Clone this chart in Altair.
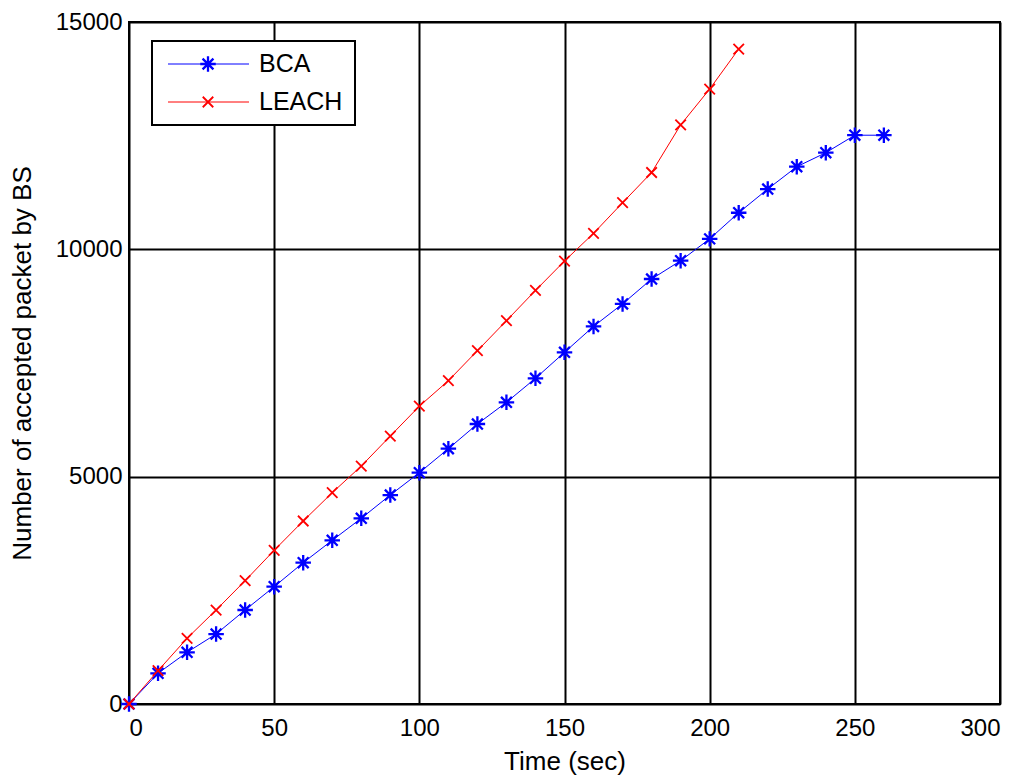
import altair as alt
import pandas as pd

time_bca = [0, 10, 20, 30, 40, 50, 60, 70, 80, 90, 100, 110, 120, 130, 140, 150,
            160, 170, 180, 190, 200, 210, 220, 230, 240, 250, 260]
bca = [0, 675, 1137, 1539, 2067, 2580, 3108, 3600, 4084, 4596, 5087, 5615, 6158,
       6635, 7163, 7735, 8305, 8800, 9347, 9750, 10230, 10805, 11326, 11817, 12125,
       12510, 12510]

time_leach = [0, 10, 20, 30, 40, 50, 60, 70, 80, 90, 100, 110, 120, 130, 140, 150,
              160, 170, 180, 190, 200, 210]
leach = [0, 733, 1445, 2067, 2712, 3380, 4025, 4647, 5234, 5894, 6550, 7111, 7770,
         8430, 9095, 9743, 10352, 11025, 11690, 12737, 13525, 14405]

series_names = ["BCA", "LEACH"]
series_colors = ["#0000ff", "#ff0000"]

ASTERISK = "M0,-1L0,1M-1,0L1,0M-0.7,-0.7L0.7,0.7M-0.7,0.7L0.7,-0.7"
XMARK = "M-1,-1L1,1M-1,1L1,-1"

df_bca = pd.DataFrame({"t": time_bca, "v": bca, "s": "BCA"})
df_leach = pd.DataFrame({"t": time_leach, "v": leach, "s": "LEACH"})

FONT = "Liberation Sans"

x_enc = alt.X("t:Q", scale=alt.Scale(domain=[0, 300], nice=False),
              axis=alt.Axis(values=[0, 50, 100, 150, 200, 250, 300], format="d",
                            title="Time (sec)"))
y_enc = alt.Y("v:Q", scale=alt.Scale(domain=[0, 15000], nice=False),
              axis=alt.Axis(values=[0, 5000, 10000, 15000], format="d",
                            title="Number of accepted packet by BS"))

AST_SIZE, AST_SW = 240, 2.3
X_SIZE, X_SW = 110, 1.8

def series(df, color, shape, size, sw):
    line = alt.Chart(df).mark_line(color=color, strokeWidth=1).encode(x=x_enc, y=y_enc)
    pts = alt.Chart(df).mark_point(shape=shape, color=color, size=size, strokeWidth=sw,
                                   filled=False, opacity=1).encode(x="t:Q", y="v:Q")
    return line + pts

leg_df = pd.DataFrame({"s": series_names, "c": series_colors})

legend_box = alt.Chart(pd.DataFrame({"a": [0]})).mark_rect(
    fill="white", stroke="black", strokeWidth=2
).encode(x=alt.value(23), x2=alt.value(226), y=alt.value(19), y2=alt.value(103))

def legend_row(name, color, yv, shape, size, sw):
    d = leg_df[leg_df.s == name]
    ln = alt.Chart(d).mark_rule(color=color, strokeWidth=1).encode(
        x=alt.value(39), x2=alt.value(120), y=alt.value(yv))
    mk = alt.Chart(d).mark_point(shape=shape, color=color, size=size, strokeWidth=sw,
                                 filled=False, opacity=1).encode(
        x=alt.value(79), y=alt.value(yv))
    tx = alt.Chart(d).mark_text(align="left", baseline="middle", font=FONT,
                                fontSize=25, color="black").encode(
        x=alt.value(130), y=alt.value(yv), text="s:N")
    return ln + mk + tx

chart = alt.layer(
    series(df_bca, "#0000ff", ASTERISK, AST_SIZE, AST_SW),
    series(df_leach, "#ff0000", XMARK, X_SIZE, X_SW),
    legend_box,
    legend_row("BCA", "#0000ff", 42, ASTERISK, AST_SIZE, AST_SW),
    legend_row("LEACH", "#ff0000", 80, XMARK, X_SIZE, X_SW),
).properties(
    width=871, height=682,
    autosize=alt.AutoSizeParams(type="none"),
    padding={"left": 129, "top": 22, "right": 25, "bottom": 75},
    background="white",
).configure_view(
    stroke="black", strokeWidth=2
).configure_axis(
    grid=True, gridColor="black", gridWidth=2, gridOpacity=1,
    domain=False, ticks=False,
    labelFont=FONT, labelFontSize=24, labelColor="black",
    titleFont=FONT, titleFontSize=26, titleColor="black", titleFontWeight="normal",
).configure_axisX(
    titlePadding=8, labelPadding=12
).configure_axisY(
    titlePadding=20, labelPadding=7
)

chart.save("out.html", embed_options={"renderer": "svg", "actions": False})
